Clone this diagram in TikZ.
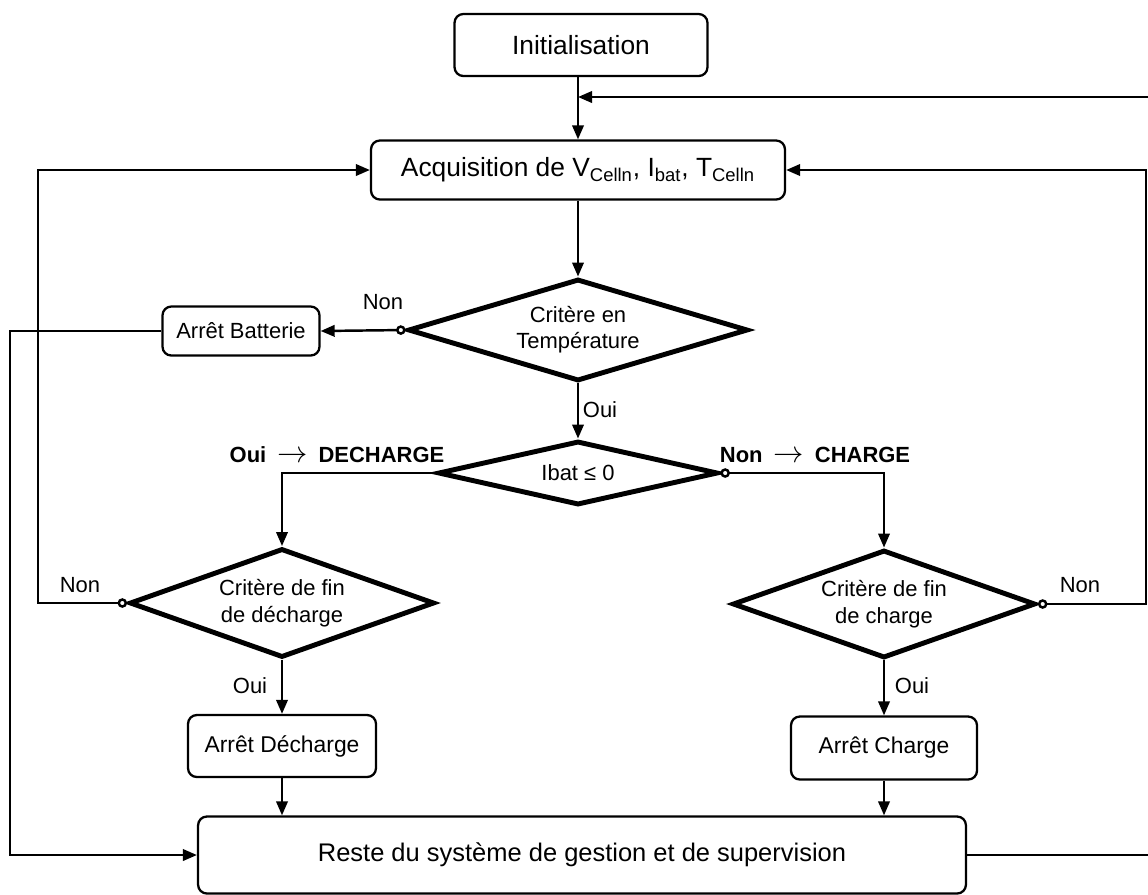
\documentclass[tikz,border=0pt]{standalone}
\usepackage{fontspec}
\setmainfont{Liberation Sans}
\usetikzlibrary{shapes.geometric,arrows.meta}

\newcommand{\toarrow}{\enspace{\fontsize{18}{18}\selectfont$\rightarrow$}\enspace}

\begin{document}
\begin{tikzpicture}[x=0.02cm, y=-0.02cm,
    box/.style={draw, rounded corners=5pt, line width=1.3pt, align=center, inner sep=2pt},
    test/.style={draw, diamond, line width=2.8pt, align=center, inner sep=0pt,
                 font=\fontsize{12.5}{15}\selectfont},
    flow/.style={line width=1.4pt, -{Triangle[length=8pt,width=6.5pt]}},
    nonflow/.style={line width=1.4pt,
                    {Circle[length=5.4pt,width=5.4pt,fill=white]}-{Triangle[length=8pt,width=6.5pt]}},
    lbl/.style={inner sep=0pt, font=\fontsize{12.5}{15}\selectfont}]
                % Page frame
                \useasboundingbox (0,0) rectangle (1148,894);

                % Boxes
                \node[box, minimum width=5.06cm, minimum height=1.24cm,
                      font=\fontsize{15}{18}\selectfont] (init) at (581,45) {Initialisation};
                \node[box, minimum width=8.28cm, minimum height=1.18cm,
                      font=\fontsize{15}{18}\selectfont] (acq) at (578,170)
                      {Acquisition de V\textsubscript{Celln}, I\textsubscript{bat}, T\textsubscript{Celln}};
                \node[box, minimum width=3.14cm, minimum height=0.98cm,
                      font=\fontsize{12.5}{15}\selectfont] (batt) at (241,331) {Arrêt Batterie};
                \node[box, minimum width=3.76cm, minimum height=1.24cm,
                      font=\fontsize{13}{15}\selectfont] (adech) at (282,746) {Arrêt Décharge};
                \node[box, minimum width=3.72cm, minimum height=1.26cm,
                      font=\fontsize{13}{15}\selectfont] (acharge) at (884,748) {Arrêt Charge};
                \node[box, minimum width=15.36cm, minimum height=1.54cm,
                      font=\fontsize{14.5}{17}\selectfont] (reste) at (582,855)
                      {Reste du système de gestion et de supervision};

                % Tests
                \node[test, shape aspect=3.3, minimum width=6.8cm, minimum height=2.04cm]
                      (temp) at (578,330) {Critère en\\Température};
                \node[test, shape aspect=4.4, minimum width=5.6cm, minimum height=1.28cm]
                      (ibat) at (578,473) {Ibat ≤ 0};
                \node[test, shape aspect=2.8, minimum width=6.1cm, minimum height=2.18cm]
                      (dech) at (282,603) {Critère de fin\\de décharge};
                \node[test, shape aspect=2.8, minimum width=6.06cm, minimum height=2.16cm]
                      (charge) at (884,604) {Critère de fin\\de charge};

                % Loose ends of the loop
                \coordinate (rin) at (1148,97);
                \coordinate (rout) at (1148,855);
                \coordinate (lb) at (10,0);
                \coordinate (ld) at (38,0);
                \coordinate (rd) at (1146,0);

                % Main flow
                \draw[flow] (acq.north |- init.south) -- (acq.north);
                \draw[flow] (rin) -- (rin -| acq.north);
                \draw[flow] (acq.south) -- (temp.north);
                \draw[nonflow] (temp.west) -- (batt.east);
                \draw[flow] (temp.south) -- (ibat.north);
                \draw[flow] (ibat.west) -| (dech.north);
                \draw[nonflow] (ibat.east) -| (charge.north);
                \draw[flow] (dech.south) -- (adech.north);
                \draw[flow] (charge.south) -- (acharge.north);
                \draw[flow] (adech.south) -- (adech.south |- reste.north);
                \draw[flow] (acharge.south) -- (acharge.south |- reste.north);

                % Returns
                \draw[flow] (batt.west) -- (batt.west -| lb) |- (reste.west);
                \draw[nonflow] (dech.west) -- (dech.west -| ld) |- (acq.west);
                \draw[nonflow] (charge.east) -- (charge.east -| rd) |- (acq.east);
                \draw[line width=1.4pt] (reste.east) -- (rout);

                % Labels
                \node[lbl] (nontemp) at (383,302) {Non};
                \node[lbl] (ouitemp) at (600,410) {Oui};
                \node[lbl] (oudech) at (337,455) {\textbf{Oui}\toarrow\textbf{DECHARGE}};
                \node[lbl] (nocharge) at (815,455) {\textbf{Non}\toarrow\textbf{CHARGE}};
                \node[lbl] (nondech) at (80,585) {Non};
                \node[lbl] (noncharge) at (1080,585) {Non};
                \node[lbl] (ouidech) at (250,686) {Oui};
                \node[lbl] (ouicharge) at (912,686) {Oui};
\end{tikzpicture}
\end{document}
